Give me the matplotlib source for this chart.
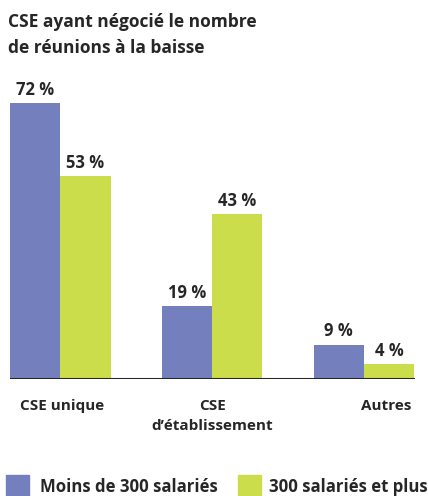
import matplotlib
matplotlib.use("Agg")
import matplotlib.pyplot as plt
import matplotlib.patches as patches
import matplotlib.transforms as mtransforms
import numpy as np

W, H = 428, 496
BLUE = "#7480BD"
GREEN = "#CCDD4B"
DARK = "#262626"

# data
categories = ["CSE unique", "CSE\nd\u2019établissement", "Autres"]
series_names = ["Moins de 300 salariés", "300 salariés et plus"]
moins_300 = [72, 19, 9]
plus_300 = [53, 43, 4]

plt.rcParams["font.family"] = ["Open Sans", "DejaVu Sans"]
plt.rcParams["font.weight"] = "bold"


def fx(x):
    return x / W


def fy(y):
    return 1 - y / H


fig = plt.figure(figsize=(W / 100, H / 100), dpi=100)

# axes: x from 10 to 415 px, baseline at 379 px, top at 100 px
ax = fig.add_axes([fx(10), fy(379), fx(415) - fx(10), (379 - 100) / H])
ax.set_xlim(-0.33, 2.336)
ax.set_ylim(0, 279 / 3.83)
ax.axis("off")

x = np.arange(len(categories))
w = 0.332
b1 = ax.bar(x - w / 2, moins_300, w, color=BLUE, label=series_names[0])
b2 = ax.bar(x + w / 2, plus_300, w, color=GREEN, label=series_names[1])

for bars in (b1, b2):
    for rect in bars:
        v = rect.get_height()
        ax.annotate(f"{v} %", (rect.get_x() + rect.get_width() / 2, v),
                    xytext=(0, 3), textcoords="offset points", ha="center",
                    va="bottom", fontsize=12, fontweight="bold", color=DARK,
                    annotation_clip=False)

ax.axhline(0, color=DARK, lw=2.2, zorder=3)

# category labels under the axis
trans = mtransforms.blended_transform_factory(ax.transData, ax.transAxes)
shift = [0.01, 0.0, 0.145]
for i, cat in enumerate(categories):
    ax.text(x[i] + shift[i], -0.07, cat, transform=trans, ha="center", va="top",
            fontsize=11, fontweight="bold", color=DARK, linespacing=1.6,
            clip_on=False)

# title
fig.text(fx(8), fy(27), "CSE ayant négocié le nombre", ha="left", va="baseline",
         fontsize=12.5, fontweight="bold", color=DARK)
fig.text(fx(8), fy(53), "de réunions à la baisse", ha="left", va="baseline",
         fontsize=12.5, fontweight="bold", color=DARK)

# legend
for sx, col, name, tx in [(6, BLUE, series_names[0], 40), (238, GREEN, series_names[1], 269)]:
    fig.patches.append(patches.Rectangle((fx(sx), fy(497)), 23 / W, 22 / H,
                                         transform=fig.transFigure, color=col))
    fig.text(fx(tx), fy(487), name, ha="left", va="center", fontsize=12.1,
             fontweight="bold", color=DARK)

fig.savefig("out.png", dpi=100)
